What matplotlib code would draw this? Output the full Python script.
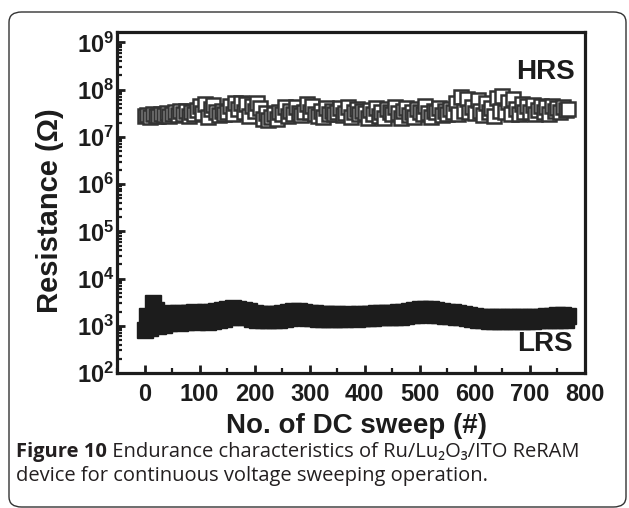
import matplotlib
matplotlib.use('Agg')
import matplotlib.pyplot as plt
import matplotlib.patches as patches
from matplotlib.ticker import MultipleLocator, LogLocator, NullFormatter
import numpy as np

# DC sweep index, one point every 5 sweeps
sweeps = np.arange(0, 775, 5)

# HRS resistance (x 1e7 ohm)
hrs_e7 = [
    2.7, 2.9, 2.6, 3.0, 2.8, 2.7, 3.1, 2.9, 3.2, 2.8,
    3.0, 3.3, 2.9, 3.5, 3.1, 3.6, 2.8, 3.4, 3.0, 3.7,
    4.6, 3.2, 5.0, 2.6, 3.8, 4.8, 3.3, 2.9, 3.6, 3.1,
    3.4, 4.4, 3.0, 5.2, 3.9, 5.1, 3.3, 4.9, 2.8, 4.5,
    3.6, 5.3, 4.1, 2.4, 3.2, 2.3, 2.6, 3.0, 2.4, 3.3,
    3.1, 4.2, 2.8, 3.5, 3.0, 4.3, 3.2, 2.9, 3.4, 4.9,
    3.3, 4.6, 3.0, 2.8, 3.5, 2.6, 4.1, 3.0, 3.6, 3.1,
    3.4, 4.0, 2.9, 3.2, 4.2, 2.6, 3.3, 3.8, 3.0, 3.5,
    3.2, 2.5, 3.7, 3.1, 4.1, 2.8, 3.4, 2.5, 3.9, 3.3,
    3.0, 4.3, 3.2, 2.5, 3.5, 4.0, 2.9, 3.4, 2.6, 3.8,
    3.4, 3.0, 4.4, 3.2, 2.6, 3.6, 3.3, 4.1, 2.9, 3.5,
    3.1, 3.9, 3.4, 5.2, 3.0, 6.9, 3.6, 6.4, 3.3, 4.2,
    3.2, 6.0, 3.5, 2.9, 5.2, 3.4, 4.0, 2.8, 6.6, 3.6,
    7.2, 3.3, 5.4, 3.1, 6.2, 3.8, 3.0, 5.0, 3.4, 4.5,
    3.3, 4.8, 3.1, 3.7, 4.6, 3.4, 4.2, 3.0, 4.4, 3.5,
    4.0, 3.3, 4.3, 3.7, 3.8,
]

# LRS resistance (x 1e3 ohm)
lrs_e3 = [
    0.8, 1.6, 0.9, 3.0, 2.2, 1.0, 1.7, 1.05, 1.9, 1.15,
    1.8, 1.2, 1.9, 1.15, 1.85, 1.2, 1.9, 1.25, 1.95, 1.2,
    1.9, 1.25, 1.95, 1.2, 2.0, 1.25, 2.1, 1.3, 2.2, 1.4,
    2.3, 1.55, 2.4, 1.6, 2.3, 1.55, 2.2, 1.5, 2.1, 1.4,
    1.9, 1.35, 1.8, 1.3, 1.75, 1.3, 1.8, 1.3, 1.8, 1.35,
    1.9, 1.4, 2.0, 1.45, 2.1, 1.5, 2.1, 1.5, 2.0, 1.45,
    1.9, 1.45, 1.85, 1.4, 1.8, 1.4, 1.8, 1.4, 1.75, 1.4,
    1.75, 1.4, 1.7, 1.4, 1.75, 1.45, 1.7, 1.4, 1.75, 1.45,
    1.8, 1.45, 1.8, 1.45, 1.85, 1.5, 1.85, 1.5, 1.9, 1.5,
    1.9, 1.55, 1.95, 1.55, 2.0, 1.6, 2.1, 1.65, 2.2, 1.7,
    2.3, 1.75, 2.3, 1.75, 2.25, 1.7, 2.2, 1.7, 2.1, 1.6,
    2.0, 1.6, 2.0, 1.55, 1.9, 1.5, 1.8, 1.45, 1.7, 1.4,
    1.6, 1.3, 1.55, 1.3, 1.5, 1.25, 1.5, 1.25, 1.5, 1.25,
    1.5, 1.25, 1.5, 1.25, 1.5, 1.25, 1.5, 1.25, 1.5, 1.25,
    1.5, 1.25, 1.55, 1.3, 1.55, 1.3, 1.6, 1.3, 1.6, 1.35,
    1.65, 1.35, 1.65, 1.35, 1.6,
]

hrs = np.array(hrs_e7) * 1e7
lrs = np.array(lrs_e3) * 1e3

plt.rcParams['font.family'] = ['Liberation Sans', 'DejaVu Sans']
plt.rcParams['font.weight'] = 'bold'

W, H = 629, 508
fig = plt.figure(figsize=(W / 100, H / 100), dpi=100)

# rounded frame around the whole figure panel
frame = patches.FancyBboxPatch((9 / W, 1 - 507 / H), (626 - 9) / W, (507 - 12) / H,
                               boxstyle='round,pad=0,rounding_size=0.02',
                               transform=fig.transFigure, fill=False,
                               edgecolor='#333333', linewidth=1.0)
fig.patches.append(frame)

left, right, top, bottom = 117, 585, 32, 373
ax = fig.add_axes([left / W, 1 - bottom / H, (right - left) / W, (bottom - top) / H])

ink = '#1c1c1c'
ax.plot(sweeps, hrs, 's', mfc='white', mec='#333333', ms=10, mew=1.8)
ax.plot(sweeps, lrs, 's', color=ink, ms=11, mew=1.0)

ax.set_yscale('log')
ax.set_xlim(-50, 800)
ax.set_ylim(1e2, 10 ** 9.22)

ax.xaxis.set_major_locator(MultipleLocator(100))
ax.xaxis.set_minor_locator(MultipleLocator(50))
ax.yaxis.set_major_locator(LogLocator(base=10, numticks=20))
ax.yaxis.set_minor_locator(LogLocator(base=10, subs=np.arange(2, 10), numticks=20))
ax.yaxis.set_minor_formatter(NullFormatter())

for s in ax.spines.values():
    s.set_linewidth(2.3)
    s.set_color(ink)

ax.tick_params(axis='both', which='both', direction='in', color=ink,
               top=False, right=False, labelsize=17, labelcolor=ink)
ax.tick_params(axis='both', which='major', length=6, width=2)
ax.tick_params(axis='both', which='minor', length=3.5, width=1.6)
ax.tick_params(axis='x', which='major', pad=7)
ax.tick_params(axis='y', which='major', pad=2)

fig.text(50 / W, 1 - 211 / H, 'Resistance (\u03a9)', rotation=90,
         ha='center', va='center', fontsize=21, color=ink)
fig.text(356 / W, 1 - 426 / H, 'No. of DC sweep (#)',
         ha='center', va='center', fontsize=20, color=ink)

# state labels placed in pixel terms of the axes box
ax.text((545 - left) / (right - left), (bottom - 72) / (bottom - top), 'HRS',
        transform=ax.transAxes, ha='center', va='center', fontsize=20, color=ink)
ax.text((545 - left) / (right - left), (bottom - 344) / (bottom - top), 'LRS',
        transform=ax.transAxes, ha='center', va='center', fontsize=20, color=ink)

# caption
cap_font = ['Open Sans', 'Noto Sans', 'DejaVu Sans']
cap_col = '#231f20'
cap_size = 14.5
t1 = fig.text(16 / W, 1 - 457 / H, 'Figure 10', fontsize=cap_size, fontweight='bold',
              family=cap_font, color=cap_col, va='baseline')
fig.canvas.draw()
bb = t1.get_window_extent()
fig.text(bb.x1 / W, 1 - 457 / H, ' Endurance characteristics of Ru/Lu\u2082O\u2083/ITO ReRAM',
         fontsize=cap_size, fontweight='normal', family=cap_font, color=cap_col,
         va='baseline')
fig.text(16 / W, 1 - 481 / H, 'device for continuous voltage sweeping operation.',
         fontsize=cap_size, fontweight='normal', family=cap_font, color=cap_col,
         va='baseline')

fig.savefig('out.png', dpi=100)
